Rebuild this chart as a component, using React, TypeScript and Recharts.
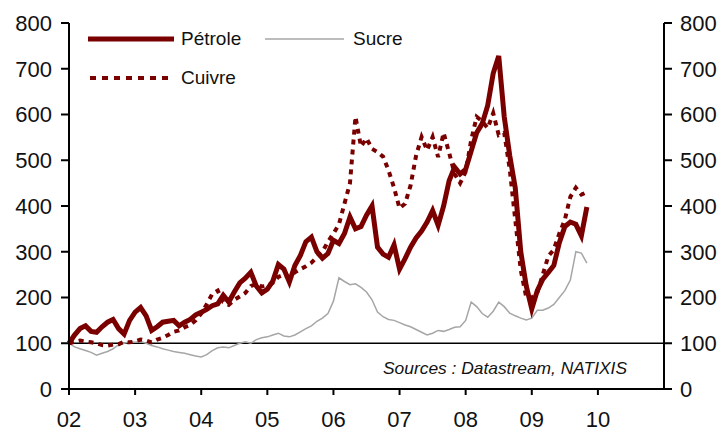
import { LineChart, Line, XAxis, YAxis, ReferenceLine } from 'recharts';

// monthly, Jan 2002 -> Nov 2009 (base 100 = Jan 2002)
const petrole = [
  100, 118, 132, 138, 126, 124, 136, 146, 152, 132, 120, 150, // 2002
  168, 178, 160, 128, 136, 146, 148, 150, 138, 146, 152, 162, // 2003
  168, 174, 182, 186, 205, 190, 212, 232, 242, 255, 225, 210, // 2004
  218, 236, 272, 262, 234, 270, 292, 322, 332, 300, 286, 296, // 2005
  325, 318, 340, 376, 350, 355, 380, 400, 310, 295, 288, 315, // 2006
  262, 285, 310, 330, 345, 365, 390, 358, 400, 455, 485, 470, // 2007
  480, 520, 560, 580, 620, 690, 728, 595, 510, 440, 300, 225, // 2008
  175, 215, 240, 255, 270, 320, 355, 365, 360, 335, 398, // 2009
];

const cuivre = [
  100, 103, 106, 104, 102, 100, 96, 95, 97, 98, 103, 102,
  104, 108, 106, 102, 108, 112, 118, 125, 128, 135, 140, 150,
  165, 185, 208, 215, 190, 184, 195, 202, 210, 225, 230, 224,
  226, 232, 245, 250, 244, 255, 262, 268, 276, 288, 300, 322,
  340, 360, 405, 450, 595, 530, 548, 525, 518, 508, 478, 440,
  395, 405, 445, 510, 551, 522, 551, 507, 560, 516, 470, 450,
  475, 544, 595, 585, 570, 603, 555, 560, 480, 370, 260, 200,
  200, 210, 250, 290, 305, 340, 370, 420, 440, 425, 430,
];

const sucre = [
  100, 92, 88, 84, 80, 74, 78, 82, 88, 97, 100, 103,
  102, 104, 100, 95, 92, 88, 85, 82, 80, 78, 75, 72,
  70, 75, 84, 90, 92, 90, 95, 100, 103, 100, 108, 112,
  114, 118, 122, 116, 114, 118, 125, 132, 138, 148, 155, 165,
  192, 243, 235, 228, 230, 222, 212, 195, 168, 158, 152, 150,
  145, 140, 136, 130, 124, 118, 122, 128, 126, 130, 135, 136,
  150, 190, 180, 165, 157, 170, 190, 180, 166, 160, 155, 151,
  155, 172, 172, 177, 185, 200, 215, 238, 300, 297, 275,
];

const yearTicks = [2002, 2003, 2004, 2005, 2006, 2007, 2008, 2009, 2010];
const valueTicks = [0, 100, 200, 300, 400, 500, 600, 700, 800];

const data = petrole.map((p, i) => ({
  t: 2002 + i / 12,
  petrole: p,
  cuivre: cuivre[i],
  sucre: sucre[i],
}));

const RED = '#7a0000';
const GREY = '#a6a6a6';
const FONT = '"Liberation Sans", Arial, sans-serif';
const tickStyle = { fontSize: 22, fill: '#111', fontFamily: FONT };

export default function App() {
  return (
    <div style={{ position: 'absolute', left: 0, top: 0, width: 721, height: 432, background: '#fff' }}>
      <LineChart width={721} height={432} data={data} margin={{ top: 23, right: 7, bottom: 0, left: 9 }}>
        <XAxis
          dataKey="t"
          type="number"
          domain={[2002, 2011]}
          ticks={yearTicks}
          tickFormatter={(v) => String(v).slice(2)}
          height={43}
          tickSize={6}
          tickMargin={16}
          stroke="#000"
          strokeWidth={2}
          tick={tickStyle}
        />
        <YAxis
          yAxisId="left"
          domain={[0, 800]}
          ticks={valueTicks}
          width={60}
          tickSize={8}
          tickMargin={9}
          stroke="#000"
          strokeWidth={2}
          tick={tickStyle}
        />
        <YAxis
          yAxisId="right"
          orientation="right"
          domain={[0, 800]}
          ticks={valueTicks}
          width={50}
          tickSize={8}
          tickMargin={8}
          stroke="#000"
          strokeWidth={2}
          tick={tickStyle}
        />
        <ReferenceLine yAxisId="left" y={100} stroke="#000" strokeWidth={1.5} />
        <Line yAxisId="right" dataKey="sucre" stroke={GREY} strokeWidth={1.5} dot={false} isAnimationActive={false} />
        <Line yAxisId="left" dataKey="petrole" stroke={RED} strokeWidth={5} dot={false} isAnimationActive={false} />
        <Line
          yAxisId="left"
          dataKey="cuivre"
          stroke={RED}
          strokeWidth={4}
          strokeDasharray="5 5"
          dot={false}
          isAnimationActive={false}
        />
      </LineChart>
      <svg width={721} height={432} style={{ position: 'absolute', left: 0, top: 0, pointerEvents: 'none' }}>
        <line x1={88} y1={39} x2={174} y2={39} stroke={RED} strokeWidth={5} />
        <text x={181} y={45} fontSize={19} fontFamily={FONT} fill="#111">Pétrole</text>
        <line x1={265} y1={39} x2={344} y2={39} stroke={GREY} strokeWidth={1.5} />
        <text x={353} y={45} fontSize={19} fontFamily={FONT} fill="#111">Sucre</text>
        <line x1={90} y1={78} x2={172} y2={78} stroke={RED} strokeWidth={4} strokeDasharray="6 6" />
        <text x={181} y={84} fontSize={19} fontFamily={FONT} fill="#111">Cuivre</text>
        <text
          x={383}
          y={374}
          fontSize={17}
          fontStyle="italic"
          fontFamily={FONT}
          fill="#111"
          textLength={244}
          lengthAdjust="spacingAndGlyphs"
        >
          Sources : Datastream, NATIXIS
        </text>
      </svg>
    </div>
  );
}
